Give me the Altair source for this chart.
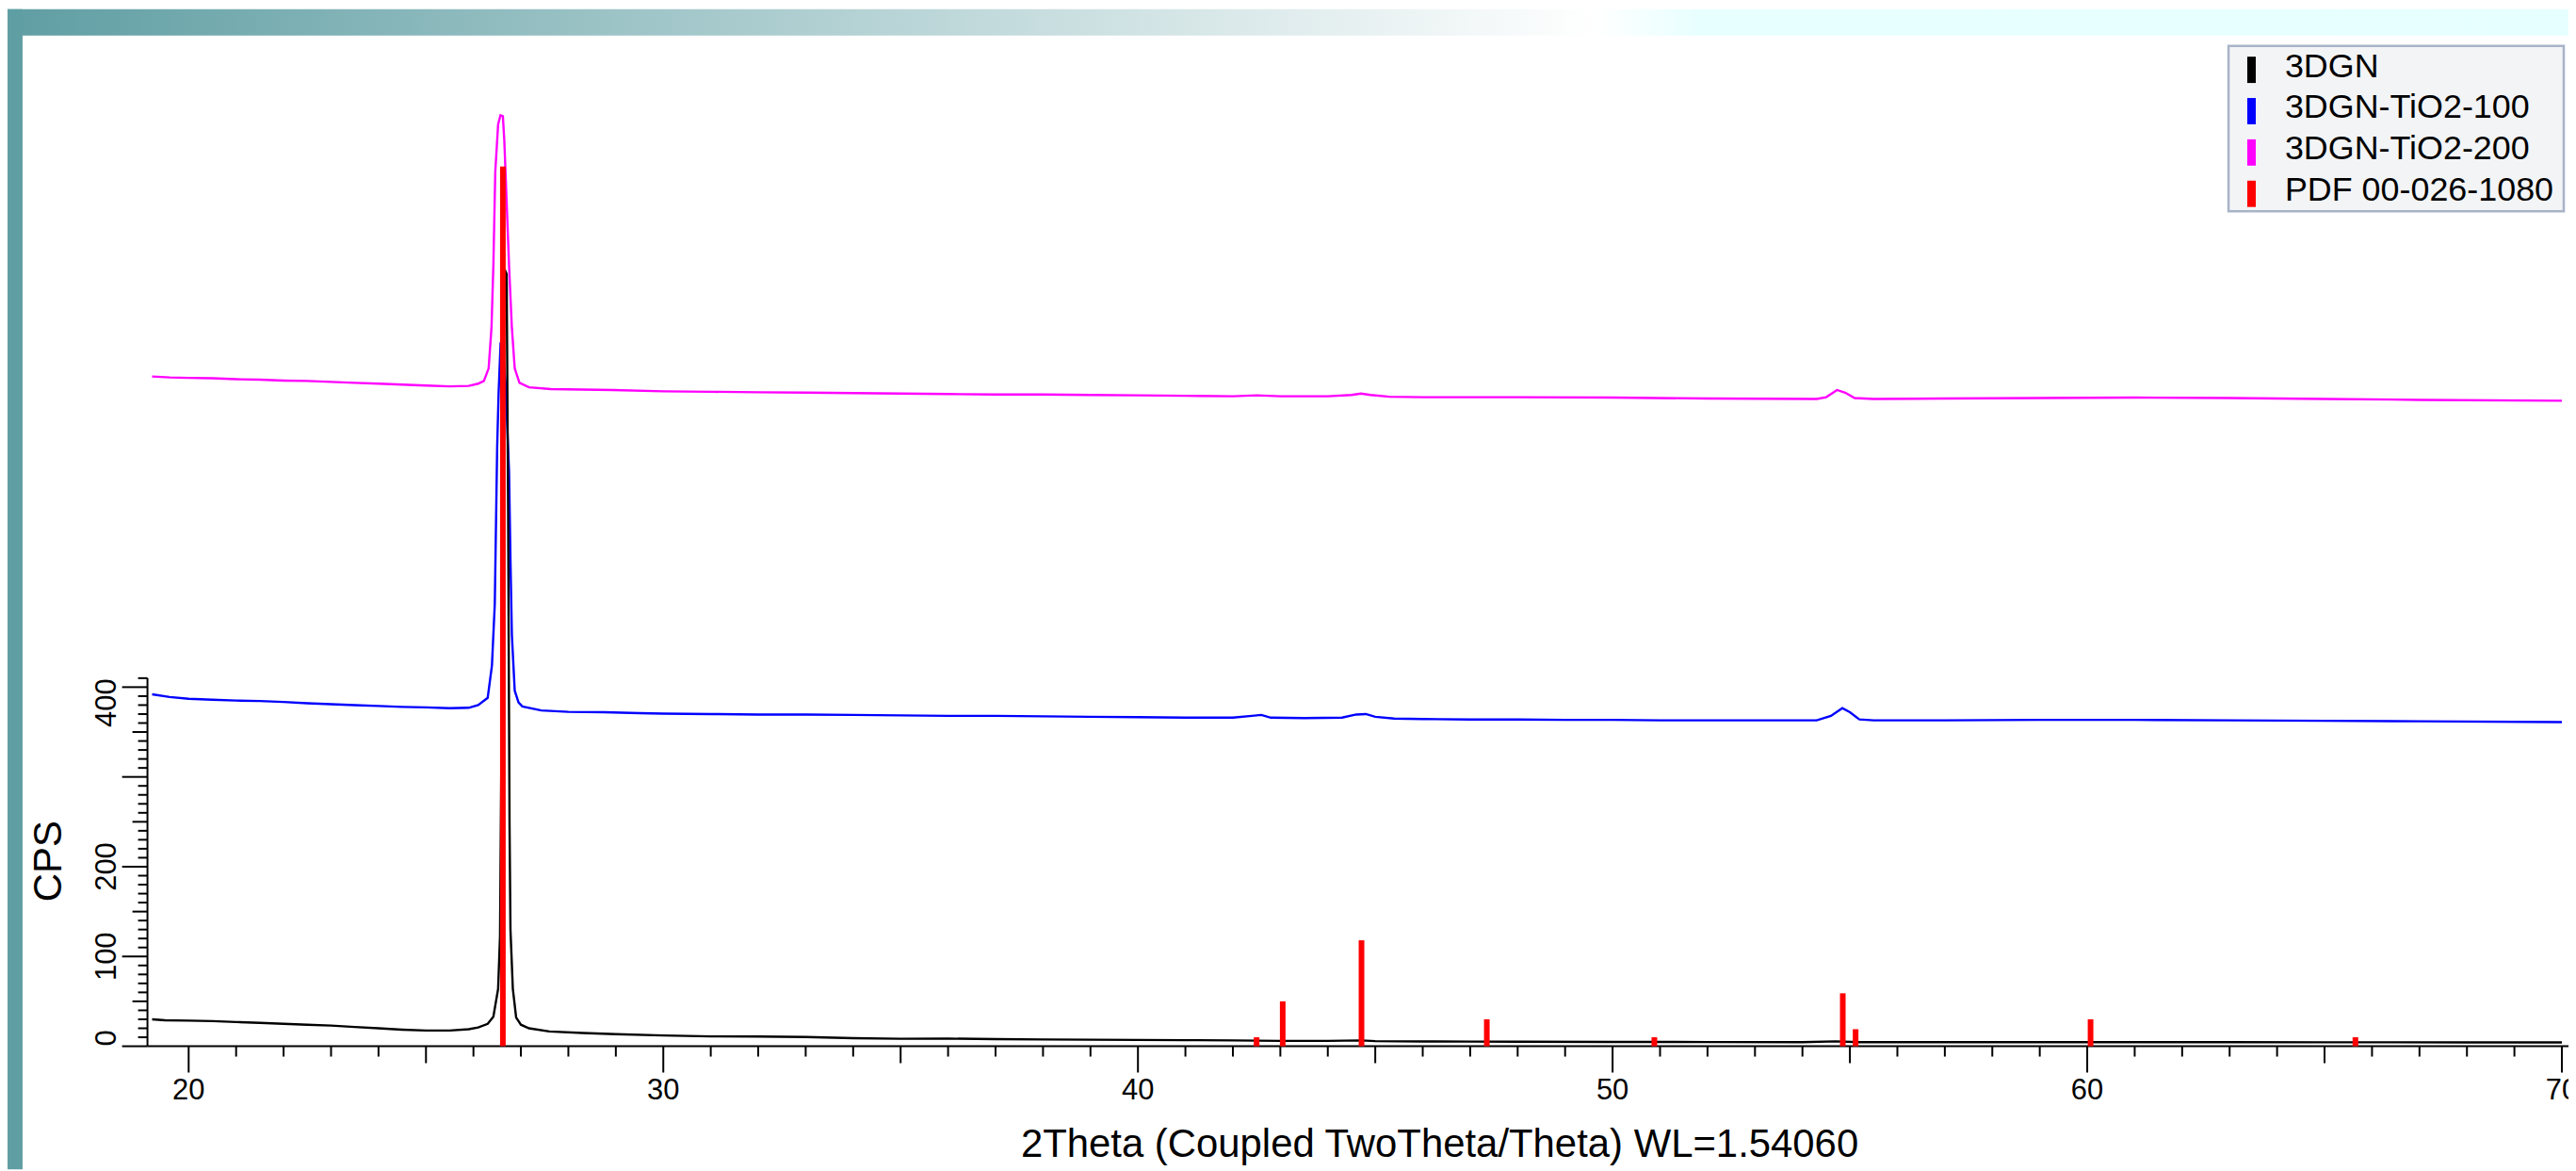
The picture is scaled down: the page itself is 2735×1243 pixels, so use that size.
import altair as alt
import pandas as pd

FONT = "Liberation Sans, Arial, sans-serif"

# ---------------- data ----------------
names = ["3DGN", "3DGN-TiO2-100", "3DGN-TiO2-200", "PDF 00-026-1080"]
colors = ["#000000", "#0000ff", "#ff00ff", "#ff0000"]

# (2theta [deg], intensity [CPS])
gn = [(19.23, 30), (19.5, 29), (20, 28.5), (20.5, 28), (21, 27), (21.5, 26), (22, 25),
      (22.5, 24), (23, 23), (23.5, 21.5), (24, 20), (24.5, 18.5), (25, 17.5), (25.5, 17.5),
      (25.9, 19), (26.1, 21), (26.3, 25), (26.42, 33), (26.52, 64), (26.56, 122),
      (26.6, 400), (26.64, 800), (26.66, 865), (26.7, 860), (26.73, 600), (26.76, 250),
      (26.78, 130), (26.83, 64), (26.9, 32), (27, 24), (27.17, 20), (27.6, 16.5),
      (28.3, 14.7), (29, 13.5), (30, 12), (30.5, 11.5), (31, 11), (32, 10.8), (33, 10.3),
      (34, 9), (35, 8.3), (36, 8.5), (37, 8), (38, 7.5), (39, 7.3), (40, 7), (41, 6.8),
      (42, 6.5), (43, 6), (44, 6), (44.7, 6.5), (45, 5.7), (46, 5.3), (47, 5.2), (48, 5),
      (50, 4.8), (52, 4.7), (54, 4.6), (54.7, 5.5), (55.2, 4.6), (57, 4.5), (60, 4.5),
      (63, 4.6), (65, 4.4), (68, 4.3), (70.0, 4.2)]

tio2_100 = [(19.23, 392), (19.6, 389), (20.0, 387), (20.5, 386), (21.0, 385), (21.5, 384.5),
            (22.0, 383.5), (22.5, 382), (23.0, 381), (23.5, 380), (24.0, 379), (24.5, 378),
            (25.0, 377.5), (25.5, 376.6), (25.9, 377), (26.1, 380), (26.3, 388), (26.39, 424),
            (26.45, 493), (26.5, 668), (26.53, 727), (26.57, 780), (26.62, 775), (26.68, 735),
            (26.72, 680), (26.75, 640), (26.78, 542), (26.81, 458), (26.87, 396), (26.95, 383),
            (27.03, 378.5), (27.43, 374), (28.0, 372.5), (28.75, 372), (29.5, 371), (30.0, 370.5),
            (31.0, 370), (32.0, 369.5), (33.0, 369.5), (34.0, 369), (35.0, 368.5), (36.0, 368),
            (37.0, 368), (38.0, 367.5), (39.0, 367), (40.0, 366.5), (41.0, 366), (42.0, 366),
            (42.4, 368), (42.6, 369), (42.8, 366), (43.5, 365.5), (44.3, 366), (44.6, 369.5),
            (44.8, 370), (45.0, 367), (45.4, 365), (46.0, 364.5), (47.0, 364), (48.0, 364),
            (49.0, 363.5), (50.0, 363.5), (51.0, 363), (52.0, 363), (53.0, 363), (54.3, 363),
            (54.6, 368), (54.84, 376.6), (55.0, 372), (55.2, 364), (55.5, 363), (57.0, 363),
            (59.0, 363.5), (61.0, 363.5), (63.0, 363), (65.0, 362.5), (67.0, 362), (70.0, 361)]

tio2_200 = [(19.23, 746), (19.6, 745), (20.0, 744.5), (20.5, 744), (21.0, 743), (21.5, 742.5),
            (22.0, 741.5), (22.5, 741), (23.0, 740), (23.5, 739), (24.0, 738), (24.5, 737),
            (25.0, 736), (25.5, 735), (25.9, 735.5), (26.1, 738), (26.22, 741), (26.32, 755),
            (26.38, 800), (26.42, 870), (26.46, 974), (26.52, 1027), (26.57, 1037), (26.62, 1036),
            (26.65, 1009), (26.70, 940), (26.75, 870), (26.81, 800), (26.87, 755), (26.97, 739),
            (27.17, 734), (27.63, 732), (28.94, 731), (30, 729.5), (31, 729), (32, 728.5),
            (33, 728), (34, 727.5), (35, 727), (36, 726.5), (37, 726), (38, 726), (39, 725.5),
            (40, 725), (41, 724.5), (42, 724), (42.5, 725), (43, 724), (44, 724), (44.5, 725.5),
            (44.7, 727), (44.9, 725.5), (45.3, 723.5), (46, 723), (47, 723), (48, 723),
            (50, 722.5), (52, 721.5), (54.3, 721), (54.5, 723), (54.73, 731), (54.9, 728),
            (55.1, 722), (55.5, 721), (57, 721.5), (59, 722), (61, 722.5), (63, 722), (65, 721),
            (67, 720), (70.0, 719)]

pdf_theta = [26.62, 42.50, 43.05, 44.71, 47.35, 50.88, 54.85, 55.12, 60.07, 65.65]
pdf_cps = [980, 10, 50, 118, 30, 10, 59, 19, 30, 10]

# axis tick values / labels / titles
x_major_ticks = [20, 30, 40, 50, 60, 70]
x_mid_ticks = [25, 35, 45, 55, 65]
x_minor_ticks = [v for v in range(20, 70) if v % 5 != 0]
y_major_ticks = [0, 100, 200, 300, 400]
y_mid_ticks = [50, 150, 250, 350]
y_minor_ticks = [v for v in range(0, 411, 10) if v % 50 != 0]
x_label_values = [20, 30, 40, 50, 60, 70]
y_label_values = [0, 100, 200, 400]
x_title = "2Theta (Coupled TwoTheta/Theta) WL=1.54060"
y_title = "CPS"
x_domain = [19.231, 70.04]
y_domain = [0, 1121.6]
y_axis_top = 410

# ---------------- tables ----------------
def frame(pairs, name):
    return pd.DataFrame({"theta": [p[0] for p in pairs], "cps": [p[1] for p in pairs], "series": name})

df_gn = frame(gn, names[0])
df_100 = frame(tio2_100, names[1])
df_200 = frame(tio2_200, names[2])
df_pdf = pd.DataFrame({"theta": pdf_theta, "cps": pdf_cps, "series": names[3]})
df_ylab = pd.DataFrame({"v": y_label_values, "t": [str(v) for v in y_label_values]})
df_xlab = pd.DataFrame({"v": x_label_values, "t": [str(v) for v in x_label_values]})
df_leg = pd.DataFrame({"series": names, "row": list(range(len(names)))})

W, H = 2578, 1072
PAD = {"left": 149, "top": 32, "right": 0, "bottom": 131}

xs = alt.Scale(domain=x_domain, nice=False, zero=False)
ys = alt.Scale(domain=y_domain, nice=False, zero=False)
cs = alt.Scale(domain=names, range=colors)

one = alt.Data(values=[{"k": 0}])

band = alt.Chart(one).mark_rect(
    fill=alt.LinearGradient(
        gradient="linear",
        stops=[alt.GradientStop(color="#5f9ea3", offset=0),
               alt.GradientStop(color="#ffffff", offset=0.62),
               alt.GradientStop(color="#e8ffff", offset=0.66),
               alt.GradientStop(color="#e6ffff", offset=1)],
        x1=0, x2=1, y1=0, y2=0)
).encode(x=alt.value(-PAD["left"]), x2=alt.value(W), y=alt.value(-PAD["top"]), y2=alt.value(-4))

strip = alt.Chart(one).mark_rect(fill="#5f9ea3").encode(
    x=alt.value(-PAD["left"]), x2=alt.value(-PAD["left"] + 16),
    y=alt.value(-PAD["top"]), y2=alt.value(H + PAD["bottom"]))


def line_layer(df):
    return alt.Chart(df).mark_line(strokeWidth=2.4).encode(
        x=alt.X("theta:Q", scale=xs, axis=None),
        y=alt.Y("cps:Q", scale=ys, axis=None),
        color=alt.Color("series:N", scale=cs, legend=None),
    )

l200 = line_layer(df_200)
l100 = line_layer(df_100)
lgn = line_layer(df_gn)


def x_ticks(values, length):
    return alt.Chart(pd.DataFrame({"v": values})).mark_rule(color="black", strokeWidth=2).encode(
        x=alt.X("v:Q", scale=xs, axis=None),
        y=alt.value(H), y2=alt.value(H + length))


def y_ticks(values, length):
    return alt.Chart(pd.DataFrame({"v": values})).mark_rule(color="black", strokeWidth=2).encode(
        y=alt.Y("v:Q", scale=ys, axis=None),
        x=alt.value(-length), x2=alt.value(0))


yline = alt.Chart(one).mark_rule(color="black", strokeWidth=2).encode(
    x=alt.value(0),
    y=alt.Y(datum=0, scale=ys, axis=None),
    y2=alt.Y2(datum=y_axis_top),
)

xline = alt.Chart(one).mark_rule(color="black", strokeWidth=2).encode(
    x=alt.value(0), x2=alt.value(W), y=alt.value(H))


def y_labels(filter_expr, align, dx):
    return alt.Chart(df_ylab).transform_filter(filter_expr).mark_text(
        angle=270, align=align, baseline="alphabetic", dx=dx,
        font=FONT, fontSize=31, color="black"
    ).encode(y=alt.Y("v:Q", scale=ys, axis=None), x=alt.value(-34), text="t:N")


ylab_first = y_labels(f"datum.v === {y_label_values[0]}", "left", 0)
ylab_mid = y_labels(f"datum.v !== {y_label_values[0]} && datum.v !== {y_label_values[-1]}", "center", 0)
ylab_last = y_labels(f"datum.v === {y_label_values[-1]}", "right", 9)

xlab = alt.Chart(df_xlab).mark_text(
    align="center", baseline="alphabetic", font=FONT, fontSize=31, color="black"
).encode(x=alt.X("v:Q", scale=xs, axis=None), y=alt.value(H + 57), text="t:N")

xtitle = alt.Chart(alt.Data(values=[{"t": x_title}])).mark_text(
    align="center", baseline="alphabetic", font=FONT, fontSize=42, color="black"
).encode(x=alt.value(1376), y=alt.value(H + 118), text="t:N")

ytitle = alt.Chart(alt.Data(values=[{"t": y_title}])).mark_text(
    angle=270, align="center", baseline="alphabetic", font=FONT, fontSize=42, color="black"
).encode(x=alt.value(-92), y=alt.value(875), text="t:N")

bars = alt.Chart(df_pdf).mark_bar(size=6).encode(
    x=alt.X("theta:Q", scale=xs, axis=None),
    y=alt.Y("cps:Q", scale=ys, axis=None),
    y2=alt.Y2(datum=0),
    color=alt.Color("series:N", scale=cs, legend=None),
)

# ---------------- legend box (drawn with marks) ----------------
LEG_X0, LEG_X1, LEG_Y0, LEG_Y1 = 2216, 2573, 7, 183
ROW = 44.0

leg_box = alt.Chart(one).mark_rect(fill="#f3f4f6", stroke="#a7b3c7", strokeWidth=2.5).encode(
    x=alt.value(LEG_X0), x2=alt.value(LEG_X1), y=alt.value(LEG_Y0), y2=alt.value(LEG_Y1))

leg_sym = alt.Chart(df_leg).transform_calculate(
    sy0=f"{32.5 - 14} + datum.row * {ROW}", sy1=f"{32.5 + 14} + datum.row * {ROW}"
).mark_rect().encode(
    x=alt.value(2236), x2=alt.value(2245),
    y=alt.Y("sy0:Q", scale=None), y2=alt.Y2("sy1:Q"),
    color=alt.Color("series:N", scale=cs, legend=None),
)

leg_txt = alt.Chart(df_leg).transform_calculate(
    ty=f"40 + datum.row * {ROW}"
).mark_text(align="left", baseline="alphabetic", font=FONT, fontSize=36, color="black").encode(
    x=alt.value(2276), y=alt.Y("ty:Q", scale=None), text="series:N")

chart = alt.layer(
    band, strip, l200, l100, lgn,
    x_ticks(x_minor_ticks, 11), x_ticks(x_mid_ticks, 18), x_ticks(x_major_ticks, 28),
    y_ticks(y_minor_ticks, 10), y_ticks(y_mid_ticks, 16), y_ticks(y_major_ticks, 27),
    xline, yline, ylab_first, ylab_mid, ylab_last, xlab, xtitle, ytitle, bars,
    leg_box, leg_sym, leg_txt,
).properties(
    width=W, height=H,
    autosize=alt.AutoSizeParams(type="none"),
    padding=PAD,
    background="white",
).configure_view(strokeWidth=0)

chart.save("out.html", embed_options={"renderer": "svg", "actions": False})
